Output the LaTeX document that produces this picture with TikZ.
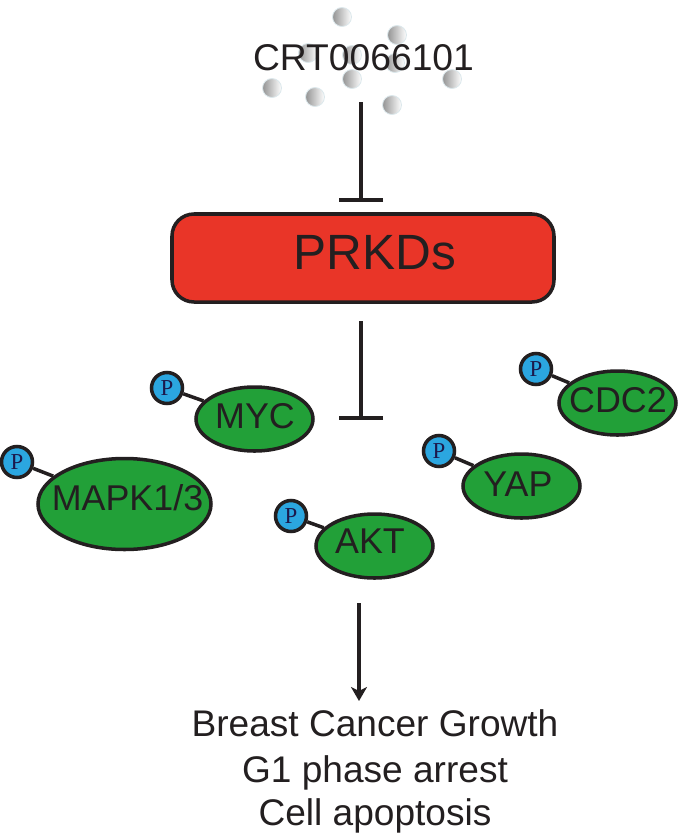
\documentclass[tikz,border=0pt]{standalone}
\usepackage{fontspec}
\setmainfont{Liberation Sans}
\newfontfamily\phosfont{Liberation Serif}
\usepackage{xcolor}
\usetikzlibrary{shapes.geometric,arrows.meta}

\definecolor{inkblack}{HTML}{231F20}
\definecolor{prkdred}{HTML}{E93528}
\definecolor{kinasegreen}{HTML}{22A038}
\definecolor{phosblue}{HTML}{2BA6E0}
\definecolor{ballrim}{HTML}{DCE8EC}

\newcommand{\unit}{*0.02cm}
\tikzset{
  kinase/.style={ellipse, draw=inkblack, fill=kinasegreen, line width=2pt, inner sep=0pt, minimum width=117\unit, minimum height=64\unit},
  kinasetext/.style={text=inkblack, inner sep=0pt, font=\fontsize{20.4}{24}\selectfont},
  phos/.style={circle, draw=inkblack, fill=phosblue, line width=2pt, minimum size=31\unit, inner sep=0pt, text=inkblack!80!blue, font=\phosfont\fontsize{13}{15}\selectfont},
  ball/.style={circle, draw=ballrim, line width=0.5pt, minimum size=19\unit, inner sep=0pt, left color=black!42, right color=white},
  link/.style={draw=inkblack, line width=2pt},
  inhibit/.style={draw=inkblack, line width=2.2pt, {-Bar[width=44\unit,line width=2.2pt]}},
  label/.style={text=inkblack, inner sep=0pt},
  outcome/.style={label, anchor=base, font=\fontsize{21.1}{24}\selectfont},
}

\begin{document}
\begin{tikzpicture}[x=0.02cm,y=-0.02cm]
\useasboundingbox (0,0) rectangle (686,836);

% drug molecules
\node[ball] (ball1) at (342,17) {};
\node[ball] (ball2) at (397,35) {};
\node[ball] (ball3) at (308,53) {};
\node[ball] (ball4) at (352,55) {};
\node[ball] (ball5) at (395,63) {};
\node[ball] (ball6) at (272,88) {};
\node[ball] (ball7) at (315,97) {};
\node[ball] (ball8) at (352,79) {};
\node[ball] (ball9) at (452,79) {};
\node[ball] (ball10) at (392,105) {};
\node[label, font=\fontsize{21.2}{24}\selectfont] (drug) at (363.5,58) {CRT0066101};

% PRKDs box
\node[draw=inkblack, fill=prkdred, line width=2pt, rounded corners=22\unit, minimum width=382\unit, minimum height=88\unit, inner sep=0pt] (prkd) at (363,258) {};
\node[label, font=\fontsize{28.2}{32}\selectfont] (prkdtext) at (375,253) {PRKDs};

% substrates
\node[kinase] (myc) at (254.5,419) {};
\node[kinasetext] (myctext) at (255,416) {MYC};
\node[kinase, minimum width=173\unit, minimum height=91\unit] (mapk) at (124.5,504) {};
\node[kinasetext] (mapktext) at (127.5,498) {MAPK1/3};
\node[kinase] (akt) at (374.5,546) {};
\node[kinasetext] (akttext) at (370,541.5) {AKT};
\node[kinase] (yap) at (521.5,486) {};
\node[kinasetext] (yaptext) at (518,484) {YAP};
\node[kinase] (cdc) at (617.5,403) {};
\node[kinasetext] (cdctext) at (618,400) {CDC2};

% phospho groups
\node[phos] (pmyc) at (167,388) {P};
\node[phos] (pmapk) at (17,462) {P};
\node[phos] (pakt) at (291,516) {P};
\node[phos] (pyap) at (439,451) {P};
\node[phos] (pcdc) at (536,369) {P};
\draw[link] (pmyc) -- (myc);
\draw[link] (pmapk) -- (mapk);
\draw[link] (pakt) -- (akt);
\draw[link] (pyap) -- (yap);
\draw[link] (pcdc) -- (cdc);

% inhibition and outcome
\coordinate (drugend) at (361,102);
\coordinate (prkdtop) at (361,202);
\coordinate (prkdend) at (361,321);
\coordinate (block) at (361,420);
\coordinate (growthtop) at (359,603);
\coordinate (growthend) at (359,701);
\draw[inhibit] (drugend) -- (prkdtop);
\draw[inhibit] (prkdend) -- (block);
\draw[draw=inkblack, line width=2.2pt, -{Stealth[length=14\unit,width=16\unit,inset=4\unit]}] (growthtop) -- (growthend);

\node[outcome] (growth) at (375,736) {Breast Cancer Growth};
\node[outcome] (arrest) at (375,782) {G1 phase arrest};
\node[outcome] (apoptosis) at (375,825) {Cell apoptosis};
\end{tikzpicture}
\end{document}
